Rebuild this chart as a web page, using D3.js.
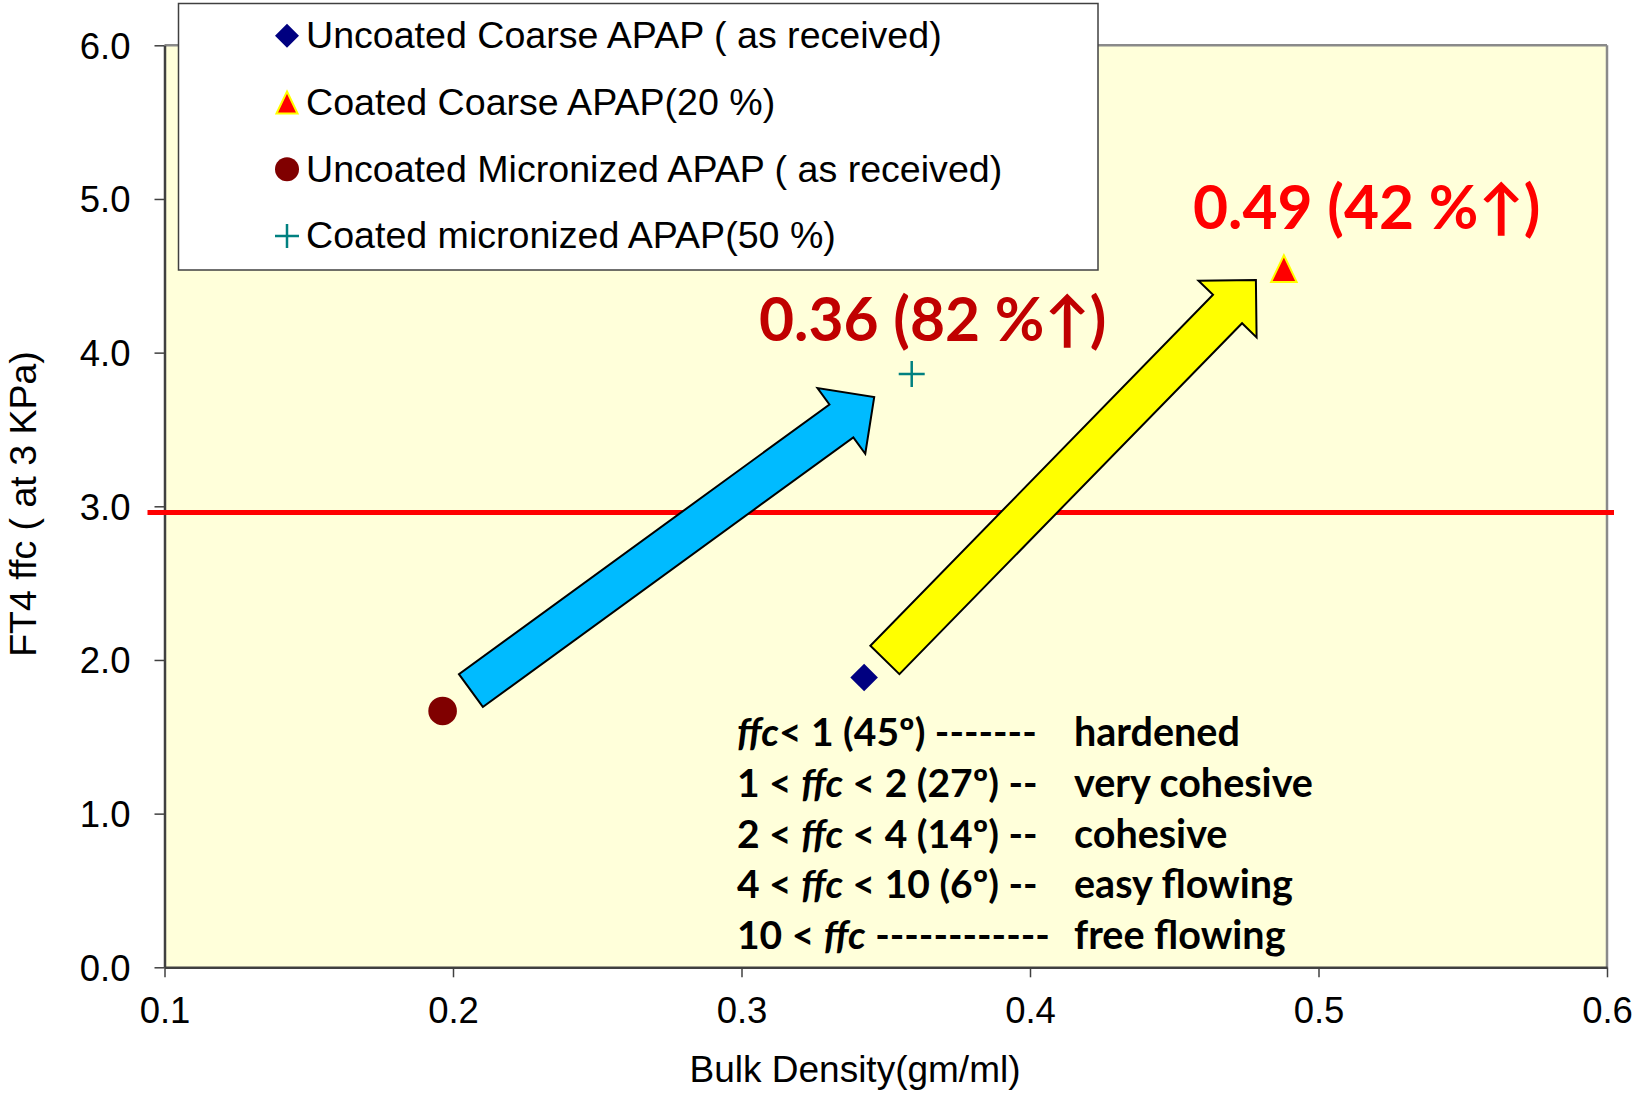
<!DOCTYPE html>
<html><head><meta charset="utf-8">
<script src="https://cdn.jsdelivr.net/npm/d3@7"></script>
<style>body{margin:0;background:#fff} svg{display:block}</style>
</head><body>
<svg id="chart" width="1637" height="1096"></svg>
<script>
// ---- data ----
const seriesNames = ["Uncoated Coarse APAP ( as received)", "Coated Coarse APAP(20 %)", "Uncoated Micronized APAP ( as received)", "Coated micronized APAP(50 %)"];
const seriesSymbols = ["diamond", "triangle", "circle", "plus"];
const bulkDensity = [0.3425, 0.488, 0.1964, 0.359];
const ffcValues = [1.886, 4.547, 1.668, 3.861];
const xTicks = [0.1, 0.2, 0.3, 0.4, 0.5, 0.6];
const yTicks = [0, 1, 2, 3, 4, 5, 6];
const thresholdFfc = 2.96;
const arrowFrom = [[0.2062, 1.801], [0.3497, 2.0]];
const arrowTo = [[0.346, 3.711], [0.4783, 4.473]];
const annotationTexts = ["0.36 (82 %\u2191)", "0.49 (42 %\u2191)"];
const classLeft = [
  [["ffc", true], ["< 1 (45\u00ba) -------", false]],
  [["1 < ", false], ["ffc", true], [" < 2 (27\u00ba) --", false]],
  [["2 < ", false], ["ffc", true], [" < 4 (14\u00ba) --", false]],
  [["4 < ", false], ["ffc", true], [" < 10 (6\u00ba) --", false]],
  [["10 < ", false], ["ffc", true], [" ------------", false]]
];
const classRight = ["hardened", "very cohesive", "cohesive", "easy flowing", "free flowing"];
const xTitle = "Bulk Density(gm/ml)";
const yTitle = "FT4 ffc ( at 3 KPa)";

// ---- styles ----
const colors = {diamond: "#000080", triangle: "#FF0000", circle: "#800000", plus: "#008080"};
const arrowColors = ["#00BBFF", "#FFFF00"];
const annColors = ["#C00000", "#FF0000"];
const axisFont = "'Liberation Sans', Arial, sans-serif";
const boldFont = "Lato, 'Open Sans', sans-serif";

const svg = d3.select("#chart");
const x = d3.scaleLinear().domain([0.1, 0.6]).range([164.5, 1607]);
const y = d3.scaleLinear().domain([0, 6]).range([967.3, 45.3]);

// plot background
svg.append("rect").attr("x", x(0.1)).attr("y", y(6)).attr("width", x(0.6) - x(0.1)).attr("height", y(0) - y(6))
  .attr("fill", "#FFFFDA");
svg.append("line").attr("x1", x(0.1)).attr("x2", x(0.6)).attr("y1", y(6)).attr("y2", y(6)).attr("stroke", "#8a8a8a").attr("stroke-width", 2.5);
svg.append("line").attr("x1", x(0.6)).attr("x2", x(0.6)).attr("y1", y(6)).attr("y2", y(0)).attr("stroke", "#8a8a8a").attr("stroke-width", 2.5);

// axes
const yAxis = svg.append("g").attr("transform", `translate(${x(0.1)},0)`)
  .call(d3.axisLeft(y).tickValues(yTicks).tickFormat(d3.format(".1f")).tickSize(10).tickSizeOuter(0).tickPadding(24));
const xAxis = svg.append("g").attr("transform", `translate(0,${y(0)})`)
  .call(d3.axisBottom(x).tickValues(xTicks).tickFormat(d3.format(".1f")).tickSize(10).tickSizeOuter(0).tickPadding(20));
[yAxis, xAxis].forEach(g => {
  g.select(".domain").attr("stroke", "#404040").attr("stroke-width", 2.5);
  g.selectAll(".tick line").attr("stroke", "#404040").attr("stroke-width", 1.5);
  g.selectAll(".tick text").attr("font-family", axisFont).attr("font-size", 36.5).attr("fill", "#000");
});
yAxis.selectAll(".tick text").attr("dy", "0.35em");

// threshold line
svg.append("line").attr("x1", x(0.1) - 17).attr("x2", x(0.6) + 7)
  .attr("y1", y(thresholdFfc)).attr("y2", y(thresholdFfc)).attr("stroke", "#FF0000").attr("stroke-width", 5);

// block arrows
function arrowPath(p0, p1, w, hw, hl) {
  const dx = p1[0] - p0[0], dy = p1[1] - p0[1], L = Math.hypot(dx, dy);
  const u = [dx / L, dy / L], n = [-u[1], u[0]];
  const b = [p1[0] - u[0] * hl, p1[1] - u[1] * hl];
  const pt = (p, k) => [p[0] + n[0] * k, p[1] + n[1] * k];
  const pts = [pt(p0, w), pt(b, w), pt(b, hw), p1, pt(b, -hw), pt(b, -w), pt(p0, -w)];
  return "M" + pts.map(p => p.join(",")).join("L") + "Z";
}
arrowFrom.forEach((f, i) => {
  const t = arrowTo[i];
  svg.append("path").attr("d", arrowPath([x(f[0]), y(f[1])], [x(t[0]), y(t[1])], 20.3, 40.6, 40.6))
    .attr("fill", arrowColors[i]).attr("stroke", "#000").attr("stroke-width", 2).attr("stroke-linejoin", "miter");
});

// markers
function drawMarker(g, sym, cx, cy, r) {
  if (sym === "diamond") {
    g.append("path").attr("d", `M${cx},${cy - r}L${cx + r},${cy}L${cx},${cy + r}L${cx - r},${cy}Z`).attr("fill", colors.diamond);
  } else if (sym === "triangle") {
    g.append("path").attr("d", `M${cx},${cy - r * 0.92}L${cx + r * 0.88},${cy + r * 0.92}L${cx - r * 0.88},${cy + r * 0.92}Z`)
      .attr("fill", colors.triangle).attr("stroke", "#FFFF00").attr("stroke-width", 2);
  } else if (sym === "circle") {
    g.append("circle").attr("cx", cx).attr("cy", cy).attr("r", r).attr("fill", colors.circle);
  } else {
    g.append("path").attr("d", `M${cx - r},${cy}H${cx + r}M${cx},${cy - r}V${cy + r}`).attr("stroke", colors.plus).attr("stroke-width", 2.5).attr("fill", "none");
  }
}
const pts = svg.append("g");
bulkDensity.forEach((bd, i) => {
  const s = seriesSymbols[i];
  const r = s === "circle" ? 14.3 : s === "triangle" ? 14.5 : s === "plus" ? 13 : 13.8;
  drawMarker(pts, s, x(bd), y(ffcValues[i]), r);
});

// annotations
const annPos = [[759, 341], [1193, 229]];
annotationTexts.forEach((t, i) => {
  svg.append("text").attr("x", annPos[i][0]).attr("y", annPos[i][1]).text(t)
    .attr("font-family", boldFont).attr("font-weight", "bold").attr("font-size", 60.5).attr("fill", annColors[i]);
});

// flowability class table
classLeft.forEach((segs, i) => {
  const t = svg.append("text").attr("x", 737).attr("y", 746 + i * 50.8)
    .attr("font-family", boldFont).attr("font-weight", "bold").attr("font-size", 39).attr("fill", "#000")
    .attr("xml:space", "preserve").style("white-space", "pre");
  segs.forEach(s => t.append("tspan").text(s[0]).attr("font-style", s[1] ? "italic" : "normal"));
  svg.append("text").attr("x", 1074).attr("y", 746 + i * 50.8).text(classRight[i])
    .attr("font-family", boldFont).attr("font-weight", "bold").attr("font-size", 39.5).attr("fill", "#000");
});

// axis titles
svg.append("text").attr("x", 855).attr("y", 1082).attr("text-anchor", "middle").text(xTitle)
  .attr("font-family", axisFont).attr("font-size", 37).attr("fill", "#000");
svg.append("text").attr("transform", "translate(36,504) rotate(-90)").attr("text-anchor", "middle").text(yTitle)
  .attr("font-family", axisFont).attr("font-size", 37.5).attr("fill", "#000");

// legend
const leg = svg.append("g");
leg.append("rect").attr("x", 178.5).attr("y", 3.5).attr("width", 919.5).attr("height", 266.5)
  .attr("fill", "#fff").attr("stroke", "#404040").attr("stroke-width", 1.5);
seriesNames.forEach((name, i) => {
  const by = 48.3 + i * 66.7;
  drawMarker(leg, seriesSymbols[i], 287, by - 12.5, 12);
  leg.append("text").attr("x", 306).attr("y", by).text(name)
    .attr("font-family", axisFont).attr("font-size", 37.6).attr("fill", "#000");
});
</script>
</body></html>
